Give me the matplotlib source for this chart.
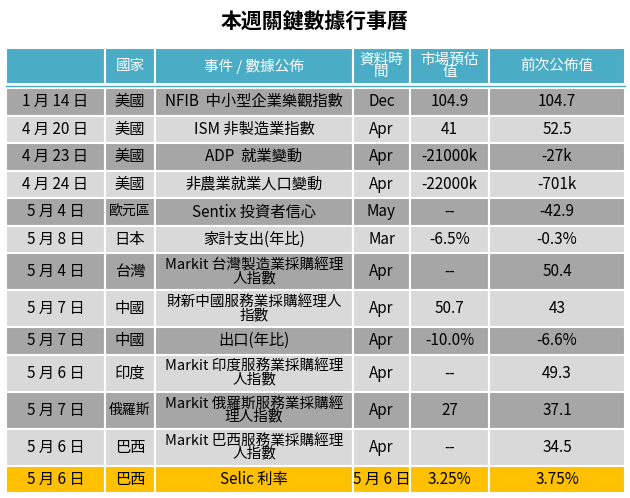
import matplotlib
matplotlib.use("Agg")
import matplotlib.pyplot as plt
from matplotlib.patches import Rectangle

plt.rcParams["font.family"] = ["Noto Sans CJK JP", "Noto Sans CJK TC", "Noto Sans CJK SC",
                               "DejaVu Sans"]

TITLE = "本週關鍵數據行事曆"
HEADERS = ["", "國家", "事件 / 數據公佈", "資料時\n間", "市場預估\n值", "前次公佈值"]
DATES = ["1 月 14 日", "4 月 20 日", "4 月 23 日", "4 月 24 日", "5 月 4 日", "5 月 8 日",
         "5 月 4 日", "5 月 7 日", "5 月 7 日", "5 月 6 日", "5 月 7 日", "5 月 6 日", "5 月 6 日"]
COUNTRIES = ["美國", "美國", "美國", "美國", "歐元區", "日本", "台灣", "中國", "中國",
             "印度", "俄羅斯", "巴西", "巴西"]
EVENTS = ["NFIB  中小型企業樂觀指數", "ISM 非製造業指數", "ADP  就業變動", "非農業就業人口變動",
          "Sentix 投資者信心", "家計支出(年比)", "Markit 台灣製造業採購經理\n人指數",
          "財新中國服務業採購經理人\n指數", "出口(年比)", "Markit 印度服務業採購經理\n人指數",
          "Markit 俄羅斯服務業採購經\n理人指數", "Markit 巴西服務業採購經理\n人指數", "Selic 利率"]
PERIODS = ["Dec", "Apr", "Apr", "Apr", "May", "Mar", "Apr", "Apr", "Apr", "Apr", "Apr", "Apr",
           "5 月 6 日"]
FORECASTS = ["104.9", "41", "-21000k", "-22000k", "--", "-6.5%", "--", "50.7", "-10.0%", "--",
             "27", "--", "3.25%"]
PREVIOUS = ["104.7", "52.5", "-27k", "-701k", "-42.9", "-0.3%", "50.4", "43", "-6.6%", "49.3",
            "37.1", "34.5", "3.75%"]

COL_X = [6, 105, 155, 353, 410, 489, 625]
W, H = 630, 498

fig = plt.figure(figsize=(W / 100, H / 100), dpi=100)
ax = fig.add_axes([0, 0, 1, 1])
ax.set_xlim(0, W)
ax.set_ylim(H, 0)
ax.axis("off")

ax.text(W / 2, 22, TITLE, fontsize=15, fontweight="bold", ha="center", va="center")


def cell_row(y0, h, texts, face, color="black", size=10.5):
    for i, txt in enumerate(texts):
        x0, x1 = COL_X[i], COL_X[i + 1]
        ax.add_patch(Rectangle((x0, y0), x1 - x0, h, facecolor=face,
                               edgecolor="white", lw=1.5))
        fs = size
        if "\n" in txt and i == 2:
            fs = size - 0.5
        if i == 1 and len(txt) > 2:
            fs = size - 1
        ax.text((x0 + x1) / 2, y0 + h / 2, txt, fontsize=fs, color=color,
                ha="center", va="center", linespacing=0.9)


cell_row(48, 36, HEADERS, "#4BACC6", color="white", size=10.5)
ax.plot([COL_X[0], COL_X[-1]], [86, 86], color="#4BACC6", lw=1)

y = 88
for k in range(len(DATES)):
    h = 37 if "\n" in EVENTS[k] else 27.5
    if k == len(DATES) - 1:
        face = "#FFC000"
    else:
        face = "#A6A6A6" if k % 2 == 0 else "#D9D9D9"
    row = [DATES[k], COUNTRIES[k], EVENTS[k], PERIODS[k], FORECASTS[k], PREVIOUS[k]]
    cell_row(y, h, row, face, size=11)
    y += h

fig.savefig("out.png", dpi=100)
